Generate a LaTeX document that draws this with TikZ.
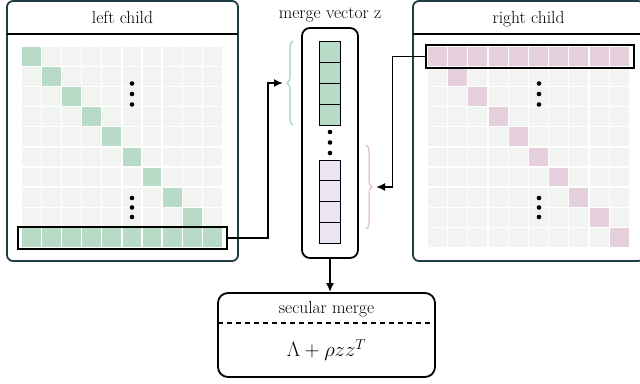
\documentclass[tikz,border=0pt]{standalone}
\usepackage{fontspec}
\usetikzlibrary{decorations.pathreplacing,arrows.meta}
\definecolor{cgreen}{HTML}{B7DBC7}
\definecolor{cpink}{HTML}{E6CFDD}
\definecolor{cpurple}{HTML}{EBE5F3}
\definecolor{cgray}{HTML}{F2F4F2}
\definecolor{cteal}{HTML}{1F3D42}
\definecolor{bgreen}{HTML}{B5DCC3}
\definecolor{bpink}{HTML}{E6C6D6}
\begin{document}
\begin{tikzpicture}[x=1pt,y=-1pt,
  font=\fontsize{17.5}{21}\selectfont,
  panel/.style={draw=cteal, line width=1.8pt, rounded corners=6pt, inner sep=0pt, fill=white},
  sepline/.style={line width=1.5pt, black},
  hlrow/.style={draw=black, line width=2pt, inner sep=0pt},
  vbox/.style={draw=black, line width=1.8pt, rounded corners=8pt, inner sep=0pt},
  vcell/.style={draw=black, line width=1pt},
  conn/.style={line width=1.8pt, -{Latex[length=9pt,width=8pt]}},
  bracestyle/.style={decorate, decoration={brace, amplitude=6pt}, line width=1.5pt},
  title/.style={inner sep=0pt, anchor=base}
]
\clip (0,0) rectangle (640,383);

% ---------- left child ----------
\node[panel, minimum width=231pt, minimum height=260pt] (L) at (122.5,131) {};
\draw[sepline] (7,34) -- (238,34);
\node[title] (Lt) at (122.5,23) {left child};
\foreach \i in {0,...,9}
  \foreach \j in {0,...,9}
    \fill[cgray] (22+20.1*\i,47+20.1*\j) rectangle ++(18.8,18.8);
\foreach \i in {0,...,8}
  \fill[cgreen] (22+20.1*\i,47+20.1*\i) rectangle ++(18.8,18.8);
\foreach \i in {0,...,9}
  \fill[cgreen] (22+20.1*\i,47+20.1*9) rectangle ++(18.8,18.8);
\node[hlrow, minimum width=209pt, minimum height=22pt] (LR) at (122.5,238) {};
\foreach \y in {83.5,94,104.5,198,207.5,217}
  \fill (132,\y) circle (2.3);

% ---------- right child ----------
\node[panel, minimum width=231pt, minimum height=260pt] (R) at (528.5,131) {};
\draw[sepline] (413,34) -- (644,34);
\node[title] (Rt) at (528.5,23) {right child};
\foreach \i in {0,...,9}
  \foreach \j in {0,...,9}
    \fill[cgray] (428+20.2*\i,47+20.1*\j) rectangle ++(18.9,18.8);
\foreach \i in {0,...,9}
  \fill[cpink] (428+20.2*\i,47) rectangle ++(18.9,18.8);
\foreach \i in {1,...,9}
  \fill[cpink] (428+20.2*\i,47+20.1*\i) rectangle ++(18.9,18.8);
\node[hlrow, minimum width=208pt, minimum height=23pt] (RR) at (529.5,56.5) {};
\foreach \y in {83.5,94,104.5,198,207.5,217}
  \fill (539,\y) circle (2.3);

% ---------- merge vector ----------
\node[title] (Mt) at (330,18) {merge vector z};
\node[vbox, minimum width=56pt, minimum height=230pt] (MV) at (330,143) {};
\foreach \k in {0,...,3}
  \draw[vcell, fill=cgreen] (319.5,41+21*\k) rectangle ++(21,21);
\foreach \k in {0,...,3}
  \draw[vcell, fill=cpurple] (319.5,160+20.8*\k) rectangle ++(21,20.8);
\foreach \y in {132,142.5,153}
  \fill (330,\y) circle (2.3);

% braces
\draw[bracestyle, draw=bgreen] (293,125) -- (293,41);
\coordinate (gtip) at (283,83);
\draw[bracestyle, draw=bpink] (366,145) -- (366,229);
\coordinate (ptip) at (376,187);

% ---------- secular merge ----------
\node[vbox, rounded corners=10pt, minimum width=217pt, minimum height=84pt] (SM) at (326.5,335) {};
\draw[line width=1.6pt, dash pattern=on 5pt off 4pt] (218,323) -- (435,323);
\node[title] (St) at (326.5,313.5) {secular merge};
\node[inner sep=0pt] (F) at (326.5,350) {\fontsize{22}{26}\selectfont$\Lambda + \rho z z^{T}$};

% ---------- connectors ----------
\draw[conn] (LR.east) -- ++(40,0) |- (gtip);
\draw[conn] (RR.west) -- ++(-32,0) |- (ptip);
\draw[conn] (MV.south) -- (MV.south |- SM.north);
\end{tikzpicture}
\end{document}
